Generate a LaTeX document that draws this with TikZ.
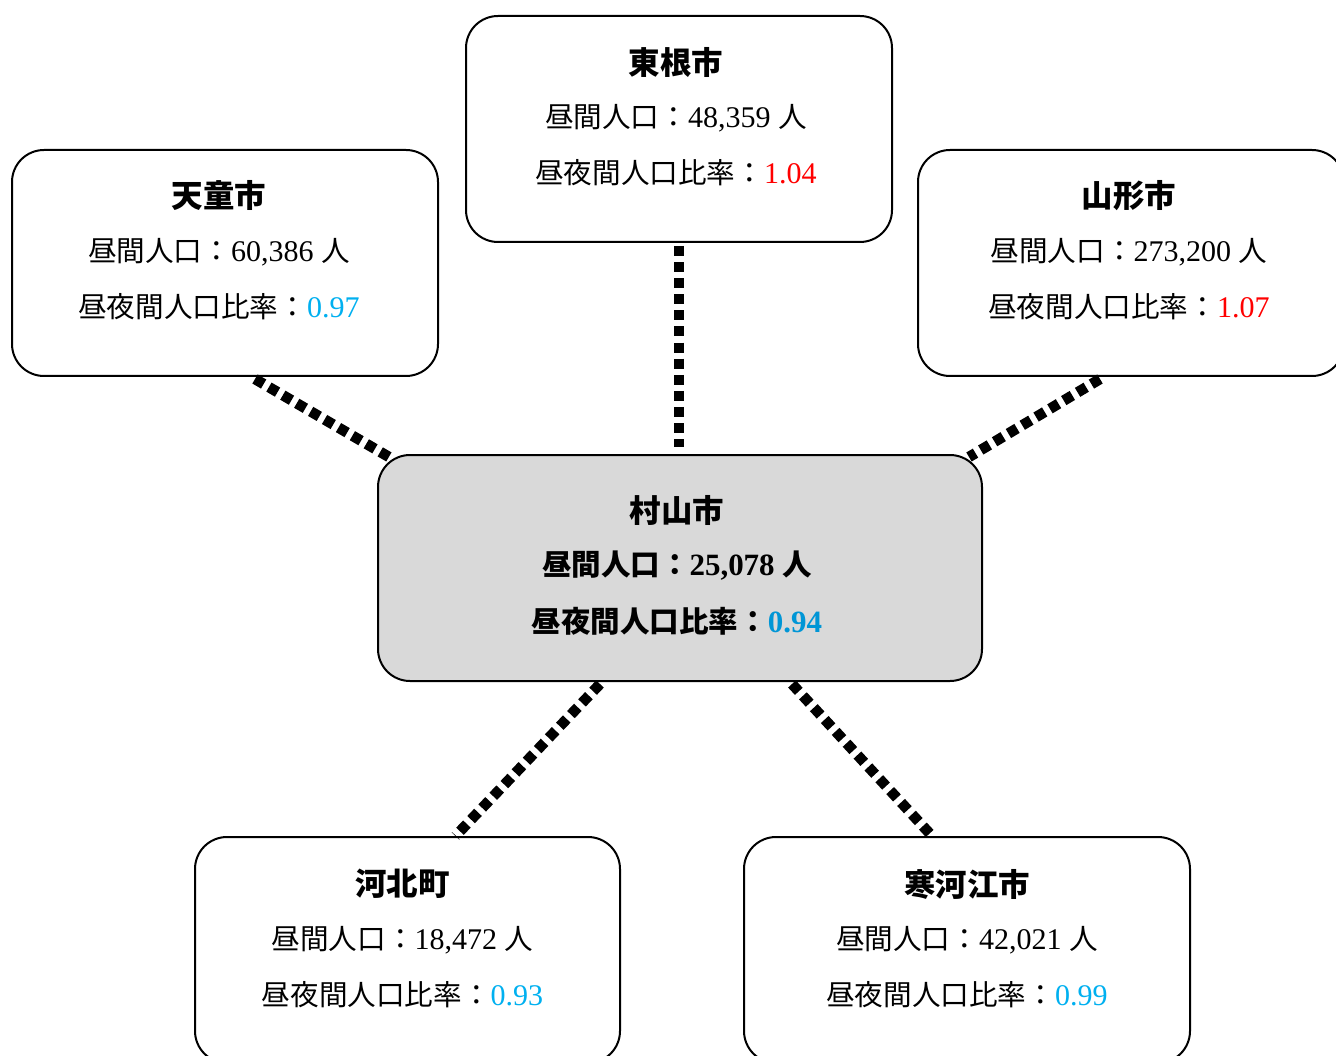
\documentclass[tikz,border=0pt]{standalone}
\usepackage{fontspec}
\setmainfont{Liberation Serif}[Scale=1.05]
\newfontfamily\jpfont{Noto Sans CJK JP}
\usetikzlibrary{calc}
\definecolor{upred}{HTML}{FF0000}
\definecolor{downblue}{HTML}{00B0F0}
\definecolor{mainblue}{HTML}{0096D6}
\definecolor{mainfill}{HTML}{D9D9D9}
\newcommand\popline[1]{{\jpfont 昼間人口：}#1 {\jpfont 人}}
\newcommand\ratioline[2]{{\jpfont 昼夜間人口比率：}\textcolor{#1}{#2}}
\begin{document}
\begin{tikzpicture}[x=1pt,y=-1pt,
  citybox/.style={draw=black, line width=2pt, rounded corners=32pt, fill=white,
    minimum width=426pt, minimum height=226pt, inner sep=0pt},
  mainbox/.style={citybox, fill=mainfill, minimum width=604pt},
  titletext/.style={font=\fontsize{31.5}{36}\selectfont\jpfont\bfseries, inner sep=0pt},
  infotext/.style={font=\fontsize{28.6}{34}\selectfont, inner sep=0pt},
  maininfo/.style={font=\fontsize{29.5}{34}\selectfont\bfseries, inner sep=0pt},
  link/.style={line width=10.5pt, dash pattern=on 10pt off 6.1pt, line cap=butt}]
\useasboundingbox (0,0) rectangle (1336,1056);
\clip (0,0) rectangle (1336,1056);

% boxes
\node[citybox] (higashine) at (679,129) {};
\node[citybox] (tendo) at (225,263) {};
\node[citybox] (yamagata) at (1131,263) {};
\node[mainbox] (murayama) at (680,568) {};
\node[citybox, minimum width=425pt] (kahoku) at (407.5,950) {};
\node[citybox, minimum width=446pt] (sagae) at (967,950) {};

% connectors
\draw[link] ([yshift=-3pt]higashine.south) -- ([yshift=7pt]higashine.south |- murayama.north);
\draw[link] ([xshift=30pt,yshift=-2pt]tendo.south) -- ([xshift=12pt,yshift=-3pt]murayama.north west);
\draw[link] ([xshift=-31pt,yshift=-2pt]yamagata.south) -- ([xshift=-14pt,yshift=-3pt]murayama.north east);
\draw[link] ([xshift=-80pt,yshift=-2pt]murayama.south) -- ([xshift=48pt]kahoku.north);
\draw[link] ([xshift=112pt,yshift=-2pt]murayama.south) -- ([xshift=-35pt]sagae.north);

% texts
\node[titletext] (higashine-t) at ([yshift=-47pt,xshift=-3pt]higashine.north) {東根市};
\node[infotext] (higashine-p) at ([yshift=-103pt,xshift=-3pt]higashine.north) {\popline{48,359}};
\node[infotext] (higashine-r) at ([yshift=-158pt,xshift=-3pt]higashine.north) {\ratioline{upred}{1.04}};

\node[titletext] (tendo-t) at ([yshift=-47pt,xshift=-6pt]tendo.north) {天童市};
\node[infotext] (tendo-p) at ([yshift=-103pt,xshift=-6pt]tendo.north) {\popline{60,386}};
\node[infotext] (tendo-r) at ([yshift=-158pt,xshift=-6pt]tendo.north) {\ratioline{downblue}{0.97}};

\node[titletext] (yamagata-t) at ([yshift=-47pt,xshift=-2pt]yamagata.north) {山形市};
\node[infotext] (yamagata-p) at ([yshift=-103pt,xshift=-2pt]yamagata.north) {\popline{273,200}};
\node[infotext] (yamagata-r) at ([yshift=-158pt,xshift=-2pt]yamagata.north) {\ratioline{upred}{1.07}};

\node[titletext] (murayama-t) at ([yshift=-56pt,xshift=-3pt]murayama.north) {村山市};
\node[maininfo] (murayama-p) at ([yshift=-112pt,xshift=-3pt]murayama.north) {\popline{25,078}};
\node[maininfo] (murayama-r) at ([yshift=-167pt,xshift=-3pt]murayama.north) {\ratioline{mainblue}{0.94}};

\node[titletext] (kahoku-t) at ([yshift=-48pt,xshift=-5pt]kahoku.north) {河北町};
\node[infotext] (kahoku-p) at ([yshift=-104pt,xshift=-5pt]kahoku.north) {\popline{18,472}};
\node[infotext] (kahoku-r) at ([yshift=-159pt,xshift=-5pt]kahoku.north) {\ratioline{downblue}{0.93}};

\node[titletext] (sagae-t) at ([yshift=-48pt]sagae.north) {寒河江市};
\node[infotext] (sagae-p) at ([yshift=-104pt]sagae.north) {\popline{42,021}};
\node[infotext] (sagae-r) at ([yshift=-159pt]sagae.north) {\ratioline{downblue}{0.99}};
\end{tikzpicture}
\end{document}
